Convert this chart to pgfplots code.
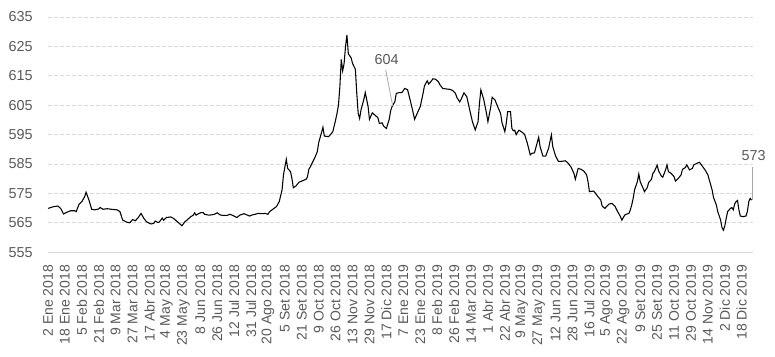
\documentclass[border=0pt]{standalone}
\usepackage{fontspec}
\setmainfont{Liberation Sans}
\usepackage{pgfplots}
\usepackage{pgfplotstable}
\pgfplotsset{compat=1.18}
\definecolor{tickgray}{HTML}{595959}
\definecolor{gridgray}{HTML}{D9D9D9}
\definecolor{leadgray}{HTML}{A6A6A6}
\pgfplotstableread{
x y
0 569.9
4 570.5
7 570.7
9 569.9
11 568.0
13 568.5
16 569.1
19 569.1
20 568.8
22 571.3
24 572.2
26 573.9
27 575.4
29 572.8
31 569.6
33 569.4
36 569.7
37 570.2
39 569.6
42 569.8
45 569.6
49 569.4
51 568.8
53 565.9
56 565.2
58 565.0
60 566.1
62 565.7
64 566.8
66 568.2
68 566.5
70 565.3
73 564.6
75 564.8
76 565.6
78 565.1
79 565.3
81 566.6
82 565.9
84 566.8
87 567.0
89 566.5
91 565.7
95 564.0
97 565.3
99 566.1
101 567.0
103 567.6
104 568.4
105 567.6
108 568.4
110 568.5
111 567.9
114 567.6
116 567.7
118 567.9
120 568.4
122 567.7
124 567.5
127 567.5
129 567.9
131 567.5
134 566.8
136 567.6
139 568.1
141 567.7
143 567.3
145 567.7
147 567.9
149 568.2
152 568.1
154 568.2
156 567.9
157 568.7
160 569.8
162 570.5
164 572.2
166 576.2
167 581.3
169 586.6
170 583.5
172 582.4
173 580.1
174 576.9
176 577.6
178 578.8
179 579.0
181 579.4
183 579.8
184 580.6
185 583.2
186 584.0
187 585.0
189 586.9
191 589.2
192 592.3
194 595.7
195 597.5
196 594.5
199 594.3
201 595.4
202 596.0
204 600.0
205 602.3
206 605.0
207 611.3
208 620.6
209 616.7
210 619.2
211 624.9
212 628.9
213 622.5
215 621.1
216 619.2
218 617.2
219 609.0
220 602.2
221 600.5
222 603.4
224 607.0
225 609.3
227 604.6
228 600.2
230 602.4
232 601.6
234 600.7
235 598.8
237 599.0
238 597.9
240 597.1
242 600.2
243 603.1
244 604.5
246 606.2
247 609.0
249 609.3
251 609.3
253 610.7
255 610.3
256 608.4
258 604.5
260 600.2
262 602.4
264 604.5
266 609.0
267 611.6
269 613.3
270 612.2
272 613.3
273 614.0
275 613.8
277 612.9
278 611.9
280 610.7
283 610.5
285 610.4
287 610.0
289 609.0
290 607.6
292 606.1
293 607.0
295 609.2
297 607.9
299 603.6
301 599.4
303 596.6
305 599.4
306 605.6
307 610.2
309 607.0
311 602.2
312 599.4
314 604.4
315 607.7
317 606.8
319 604.4
321 602.2
322 599.0
324 596.0
325 598.8
326 602.8
328 602.8
329 597.1
330 596.3
331 596.5
332 595.0
334 596.5
336 595.9
338 595.1
340 592.0
342 588.1
343 588.6
345 588.8
348 594.1
349 590.9
351 587.7
353 587.7
355 590.3
357 594.9
358 590.9
360 587.7
362 585.9
364 585.9
367 586.1
369 585.2
371 583.9
373 581.8
374 579.8
376 583.5
378 583.2
380 582.6
382 581.3
383 579.0
384 575.6
387 575.8
388 575.2
390 573.9
392 572.8
393 570.7
395 569.9
396 570.5
398 571.4
400 571.6
402 570.7
404 568.8
406 567.1
407 565.9
409 567.6
410 567.9
412 568.2
413 569.4
414 571.1
415 573.3
416 576.2
418 579.0
419 581.6
420 579.0
422 576.8
423 575.6
425 577.0
426 578.7
428 579.8
429 581.8
430 582.4
432 584.6
433 582.7
434 581.8
435 580.9
436 580.5
438 583.0
439 584.7
440 582.4
442 581.8
444 580.7
445 579.2
447 580.1
449 581.3
450 583.2
452 583.8
453 584.7
455 583.0
457 583.5
458 584.7
460 585.2
462 585.6
464 584.3
466 583.0
468 581.3
469 579.6
471 576.2
472 573.6
474 571.1
475 568.8
477 566.0
478 563.4
479 562.5
480 563.9
481 566.5
482 568.8
484 569.9
485 570.2
486 569.4
487 571.4
488 572.2
489 572.6
490 569.4
491 567.3
493 567.1
495 567.3
496 568.8
497 572.2
498 573.3
499 572.7
}\datatable
\begin{document}
\begin{tikzpicture}
\begin{axis}[
  scale only axis, width=528.75pt, height=176.4pt,
  xmin=0, xmax=500, ymin=555, ymax=635,
  ytick={555,565,...,635},
  xtick={0,12,...,492},
  xticklabels={2 Ene 2018,18 Ene 2018,5 Feb 2018,21 Feb 2018,9 Mar 2018,27 Mar 2018,17 Abr 2018,4 May 2018,23 May 2018,8 Jun 2018,26 Jun 2018,12 Jul 2018,31 Jul 2018,20 Ago 2018,5 Set 2018,21 Set 2018,9 Oct 2018,26 Oct 2018,13 Nov 2018,29 Nov 2018,17 Dic 2018,7 Ene 2019,23 Ene 2019,8 Feb 2019,26 Feb 2019,14 Mar 2019,1 Abr 2019,22 Abr 2019,9 May 2019,27 May 2019,12 Jun 2019,28 Jun 2019,16 Jul 2019,5 Ago 2019,22 Ago 2019,9 Set 2019,25 Set 2019,11 Oct 2019,29 Oct 2019,14 Nov 2019,2 Dic 2019,18 Dic 2019},
  axis x line*=bottom, axis y line*=left,
  x axis line style={draw=gridgray, line width=0.75pt, -},
  y axis line style={draw=none, -},
  major tick length=0pt,
  ymajorgrids,
  grid style={gridgray, dash pattern=on 3pt off 1.5pt, line width=0.75pt},
  /pgf/number format/assume math mode=true,
  yticklabel style={font=\fontsize{10.8}{12}\selectfont, text=tickgray},
  yticklabel shift=8pt,
  xticklabel style={font=\fontsize{10.5}{12}\selectfont, text=tickgray, rotate=90, anchor=east},
  xticklabel shift=6pt,
  clip=false,
]
\addplot[black, line width=0.8pt] table[x=x, y=y] {\datatable};
\draw[leadgray, line width=0.6pt] (axis cs:239.5,617) -- (axis cs:244.5,604.7);
\node[text=tickgray, font=\fontsize{10.8}{12}\selectfont] at (axis cs:240.2,620.4) {604};
\draw[leadgray, line width=0.6pt] (axis cs:499.5,572.8) -- (axis cs:499.5,584);
\node[text=tickgray, font=\fontsize{10.8}{12}\selectfont] at (axis cs:500.5,588) {573};
\end{axis}
\pgfresetboundingbox
\path[use as bounding box] (-36pt,-78.6pt) rectangle (545.25pt,189.15pt);
\end{tikzpicture}
\end{document}
